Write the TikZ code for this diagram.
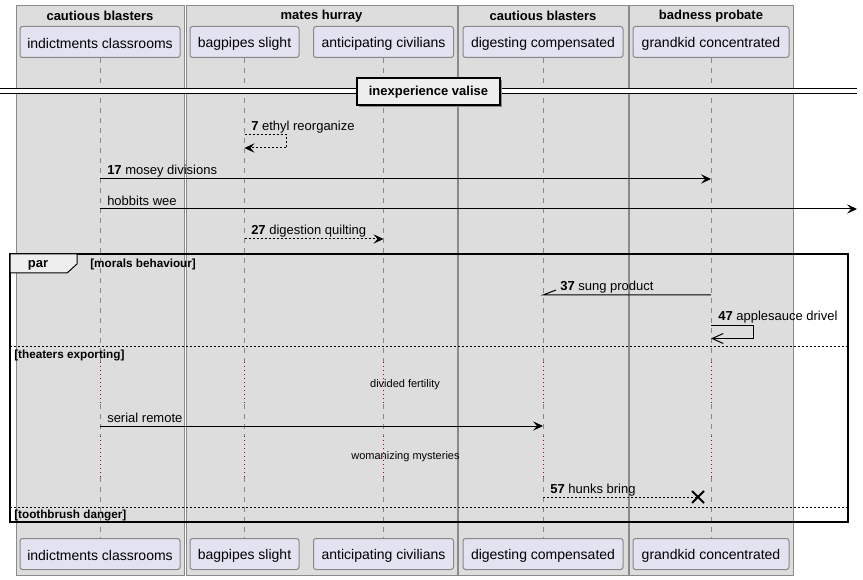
\documentclass[tikz,border=0pt]{standalone}
\usepackage{fontspec}
\setmainfont{Liberation Sans}
\usetikzlibrary{arrows.meta}
\definecolor{grpfill}{HTML}{DDDDDD}
\definecolor{grpline}{HTML}{8A8A8A}
\definecolor{partfill}{HTML}{E2E2F0}
\definecolor{partline}{HTML}{888888}
\definecolor{lifecol}{HTML}{888888}
\definecolor{delayred}{HTML}{A80036}
\definecolor{tabfill}{HTML}{EEEEEE}
\begin{document}
\begin{tikzpicture}[x=0.75pt,y=-0.75pt,
  grp/.style={fill=grpfill,draw=grpline,line width=0.75pt},
  grptitle/.style={font=\bfseries\fontsize{9.75}{11}\selectfont,inner sep=0},
  part/.style={fill=partfill,draw=partline,line width=0.75pt,rounded corners=1.9pt,
    minimum height=23.25pt,inner sep=0,font=\fontsize{10.5}{12}\selectfont},
  ptext/.style={inner sep=0,font=\fontsize{10.5}{12}\selectfont},
  life/.style={draw=lifecol,line width=0.75pt,dash pattern=on 3.75pt off 3.75pt},
  delayline/.style={draw=delayred,line width=0.75pt,dash pattern=on 0.75pt off 2.25pt},
  plainmsg/.style={line width=0.75pt},
  msg/.style={plainmsg,-{Stealth[length=7.5pt,width=7pt,inset=3pt]}},
  dottedmsg/.style={plainmsg,dash pattern=on 1.5pt off 1.5pt},
  dmsg/.style={msg,dash pattern=on 1.5pt off 1.5pt},
  openmsg/.style={plainmsg,-{Straight Barb[length=8.25pt,width=7.5pt]}},
  lbl/.style={anchor=west,inner sep=0,font=\fontsize{9.75}{11}\selectfont},
  grplbl/.style={anchor=west,inner sep=0,font=\bfseries\fontsize{8.8}{10}\selectfont},
  delaytxt/.style={inner sep=0,font=\fontsize{8.25}{10}\selectfont},
  sepline/.style={line width=0.75pt,dash pattern=on 1.5pt off 1.5pt},
]
\useasboundingbox (0,0) rectangle (863,580);
\fill[white] (0,0) rectangle (863,580);

% group boxes
\draw[grp] (16,6) rectangle (184,575);
\draw[grp] (186,6) rectangle (457,575);
\draw[grp] (458,6) rectangle (628,575);
\draw[grp] (629,6) rectangle (793,575);
\node[grptitle] (g1) at (100,16) {cautious blasters};
\node[grptitle] (g2) at (321.5,16) {mates hurray};
\node[grptitle] (g3) at (543,16) {cautious blasters};
\node[grptitle] (g4) at (711,16) {badness probate};

% participants
\node[part,minimum width=120pt] (p1) at (100,42) {};
\node[part,minimum width=81.75pt] (p2) at (244.5,42) {};
\node[part,minimum width=105pt] (p3) at (383.5,42) {};
\node[part,minimum width=120pt] (p4) at (543,42) {};
\node[part,minimum width=117pt] (p5) at (711,42) {};
\node[part,minimum width=120pt] (bp1) at (100,554) {};
\node[part,minimum width=81.75pt] (bp2) at (244.5,554) {};
\node[part,minimum width=105pt] (bp3) at (383.5,554) {};
\node[part,minimum width=120pt] (bp4) at (543,554) {};
\node[part,minimum width=117pt] (bp5) at (711,554) {};
\node[ptext] (t1) at ([yshift=-1.3pt]p1.center) {indictments classrooms};
\node[ptext] (t2) at ([yshift=-1.3pt]p2.center) {bagpipes slight};
\node[ptext] (t3) at ([yshift=-1.3pt]p3.center) {anticipating civilians};
\node[ptext] (t4) at ([yshift=-1.3pt]p4.center) {digesting compensated};
\node[ptext] (t5) at ([yshift=-1.3pt]p5.center) {grandkid concentrated};
\node[ptext] (bt1) at ([yshift=-1.3pt]bp1.center) {indictments classrooms};
\node[ptext] (bt2) at ([yshift=-1.3pt]bp2.center) {bagpipes slight};
\node[ptext] (bt3) at ([yshift=-1.3pt]bp3.center) {anticipating civilians};
\node[ptext] (bt4) at ([yshift=-1.3pt]bp4.center) {digesting compensated};
\node[ptext] (bt5) at ([yshift=-1.3pt]bp5.center) {grandkid concentrated};

% lifelines
\foreach \p in {p1,p2,p3,p4,p5}{
  \draw[life] (\p.south) -- (\p |- 0,362);
  \draw[delayline] (\p |- 0,362) -- (\p |- 0,404);
  \draw[life] (\p |- 0,404) -- (\p |- 0,436);
  \draw[delayline] (\p |- 0,436) -- (\p |- 0,477);
  \draw[life] (\p |- 0,477) -- (b\p.north);
}

% divider
\coordinate (dl) at (0,89);
\coordinate (dr) at (857,93.5);
\fill[white] (dl) rectangle (dr);
\draw[line width=0.75pt] (0,89) -- (857,89) (0,93.5) -- (857,93.5);
\fill[black!45] (359,80) rectangle (502,107);
\node[draw,line width=1.5pt,fill=tabfill,minimum width=107.25pt,minimum height=20.25pt,inner sep=0] (div) at (428.5,91.5) {};
\node[inner sep=0,font=\bfseries\fontsize{9.75}{11}\selectfont] (divt) at (428.5,92.5) {inexperience valise};

% messages
\draw[dmsg] (p2 |- 0,135) -- ++(42,0) -- ++(0,13) -- (p2 |- 0,148);
\node[lbl] (l7) at (251,127.5) {{\bfseries 7} ethyl reorganize};

\draw[msg] (p1 |- 0,179) -- (p5 |- 0,179);
\node[lbl] (l17) at (107,171) {{\bfseries 17} mosey divisions};

\coordinate (hobend) at (857,209);
\draw[msg] (p1 |- 0,209) -- (hobend);
\node[lbl] (lhob) at (107,201) {hobbits wee};

\draw[dmsg] (p2 |- 0,239) -- (p3 |- 0,239);
\node[lbl] (l27) at (251,231) {{\bfseries 27} digestion quilting};

% par frame
\draw[line width=1.5pt] (10,254) rectangle (848,522);
\draw[line width=0.75pt,fill=tabfill] (10,254) -- (77,254) -- (77,264) -- (67,273) -- (10,273) -- cycle;
\node[inner sep=0,font=\bfseries\fontsize{9.75}{11}\selectfont] (partab) at (38,265) {par};
\node[grplbl] (c1) at (90,264.5) {[morals behaviour]};

\draw[plainmsg] (p5 |- 0,295) -- (p4 |- 0,295) -- ++(13,-5);
\node[lbl] (l37) at (560,287) {{\bfseries 37} sung product};

\draw[openmsg] (p5 |- 0,325.5) -- ++(42,0) -- ++(0,13) -- (p5 |- 0,338.5);
\node[lbl] (l47) at (718,317) {{\bfseries 47} applesauce drivel};

\draw[sepline] (10,347) -- (848,347);
\node[grplbl] (c2) at (14,355.5) {[theaters exporting]};

\node[delaytxt] (d1) at (405,385) {divided fertility};

\draw[msg] (p1 |- 0,426) -- (p4 |- 0,426);
\node[lbl] (lser) at (107,418) {serial remote};

\node[delaytxt] (d2) at (405.5,457) {womanizing mysteries};

\coordinate (xmark) at (698,497);
\draw[dottedmsg] (p4 |- 0,497) -- (xmark);
\draw[line width=1.5pt] (xmark) ++(-6,-6) -- ++(12,12) ++(0,-12) -- ++(-12,12);
\node[lbl] (l57) at (550,490) {{\bfseries 57} hunks bring};

\draw[sepline] (10,507) -- (848,507);
\node[grplbl] (c3) at (14,515.5) {[toothbrush danger]};
\end{tikzpicture}
\end{document}
